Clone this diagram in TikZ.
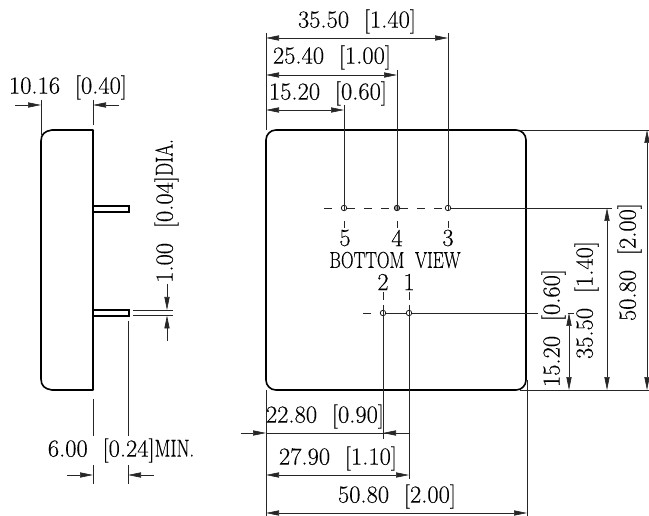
\documentclass[tikz,border=0pt]{standalone}
\usepackage{graphicx}
\usepackage{fontspec}
\setmainfont[FakeBold=0.25]{Latin Modern Roman}
\usetikzlibrary{arrows.meta}
\newcommand{\capsx}[1]{\scalebox{.76}[1]{#1}}
\tikzset{
  x=1pt,y=-1pt,
  body/.style={line width=1.6pt,black,line join=round},
  pin/.style={line width=1.1pt,black},
  thin line/.style={line width=.65pt,black!85},
  dimtip/.tip={Triangle[length=13pt,width=5.2pt]},
  dim/.style={thin line,{dimtip}-{dimtip}},
  tipend/.style={thin line,-{dimtip}},
  label/.style={inner sep=0pt,font=\fontsize{24.5}{24.5}\selectfont},
  caps/.style={inner sep=0pt,font=\fontsize{23}{23}\selectfont},
  dashline/.style={thin line,dash pattern=on 8pt off 9pt},
  hole/.style={circle,draw,line width=.7pt,minimum size=5.5pt,inner sep=0pt},
}
\begin{document}
\begin{tikzpicture}
\useasboundingbox (0,0) rectangle (649,516);
% side view
\draw[body] (93,130) -- (52,130) .. controls (45,131) and (41,134) .. (41,141) -- (41,379) .. controls (41,386) and (45,389) .. (52,390) -- (93,390) -- cycle;
\draw[pin] (93,206) -- (129,206) -- (129,212) -- (93,212);
\draw[pin] (93,310) -- (129,310) -- (129,316) -- (93,316);
\draw[thin line] (41,100) -- (41,135);
\draw[thin line] (93,100) -- (93,125);
\draw[tipend] (15,105) -- (41,105);
\draw[tipend] (119,105) -- (93,105);
\node[label] (sw) at (68,87.5) {10.16\ \ [0.40]};
% pin diameter
\draw[thin line] (133,310) -- (173,310);
\draw[thin line] (133,315.5) -- (173,315.5);
\draw[tipend] (167,284) -- (167,310);
\draw[tipend] (167,341) -- (167,315.5);
\node[label,rotate=90] (dia) at (166.5,211) {1.00\ \ [0.04]\capsx{DIA.}};
% pin length
\draw[thin line] (93,399) -- (93,436);
\draw[thin line] (93,465) -- (93,484);
\draw[thin line] (128,321) -- (128,436);
\draw[thin line] (128,465) -- (128,484);
\draw[tipend] (67,475) -- (93,475);
\draw[tipend] (154,475) -- (128,475);
\node[label] (pl) at (121,450.5) {6.00\ \ [0.24]\capsx{MIN.}};
% bottom view
\draw[body,rounded corners=10pt] (266,130) -- (526,130) -- (526,390) -- (266,390) -- cycle;
% holes
\node[hole] (p5) at (344,208) {};
\node[hole,fill=black!40] (p4) at (397,208) {};
\node[hole] (p3) at (448,208) {};
\node[hole] (p2) at (383,313) {};
\node[hole] (p1) at (409,313) {};
% centre lines
\draw[dashline] (324,208) -- (p5) -- (p4) -- (p3);
\draw[thin line] (p3.east) -- (612,208);
\draw[dashline] (363,313) -- (378,313);
\draw[thin line] (p2.east) -- (p1.west);
\draw[thin line] (p1.east) -- (538,313);
\draw[thin line] (568,313) -- (574,313);
\draw[thin line] (344,105) -- (p5.south);
\draw[thin line] (397,70) -- (p4.south);
\draw[thin line] (448,33) -- (p3.south);
\foreach \x in {344,397,448} \draw[thin line] (\x,221) -- (\x,228);
\foreach \x in {383,409} \draw[thin line] (\x,292) -- (\x,300);
\draw[thin line] (383,305) -- (383,439);
\draw[thin line] (409,305) -- (409,479);
% top dimensions
\draw[thin line] (266,33) -- (266,130);
\draw[dim] (266,38) -- (448,38);
\draw[dim] (266,75) -- (397,75);
\draw[dim] (266,110) -- (344,110);
\node[label] (d1) at (357,21.5) {35.50\ \ [1.40]};
\node[label] (d2) at (332,57.5) {25.40\ \ [1.00]};
\node[label] (d3) at (328,93.5) {15.20\ \ [0.60]};
% pin labels
\node[label] (n5) at (345,238) {5};
\node[label] (n4) at (397,238) {4};
\node[label] (n3) at (448,238) {3};
\node[caps] (bv) at (395,260) {\capsx{BOTTOM\ \ VIEW}};
\node[label] (n2) at (383,282) {2};
\node[label] (n1) at (409,282) {1};
% bottom dimensions
\draw[thin line] (266,390) -- (266,516);
\draw[thin line] (527,380) -- (527,516);
\draw[tipend] (241,433) -- (266,433);
\draw[thin line] (266,433) -- (409,433);
\draw[thin line,-{dimtip}] (409,433) -- (383,433);
\draw[dim] (266,475) -- (409,475);
\draw[dim] (266,513) -- (527,513);
\node[label] (d4) at (325,416.5) {22.80\ \ [0.90]};
\node[label] (d5) at (338,458.5) {27.90\ \ [1.10]};
\node[label] (d6) at (397,496.5) {50.80\ \ [2.00]};
% right dimensions
\draw[thin line] (520,130) -- (649,130);
\draw[thin line] (520,390) -- (649,390);
\draw[dim] (647,130) -- (647,390);
\draw[dim] (607,208) -- (607,390);
\draw[dim] (569,313) -- (569,390);
\node[label,rotate=90] (r1) at (629.5,262) {50.80\ \ [2.00]};
\node[label,rotate=90] (r2) at (586.5,300) {35.50\ \ [1.40]};
\node[label,rotate=90] (r3) at (553.5,328) {15.20\ \ [0.60]};
\end{tikzpicture}
\end{document}
